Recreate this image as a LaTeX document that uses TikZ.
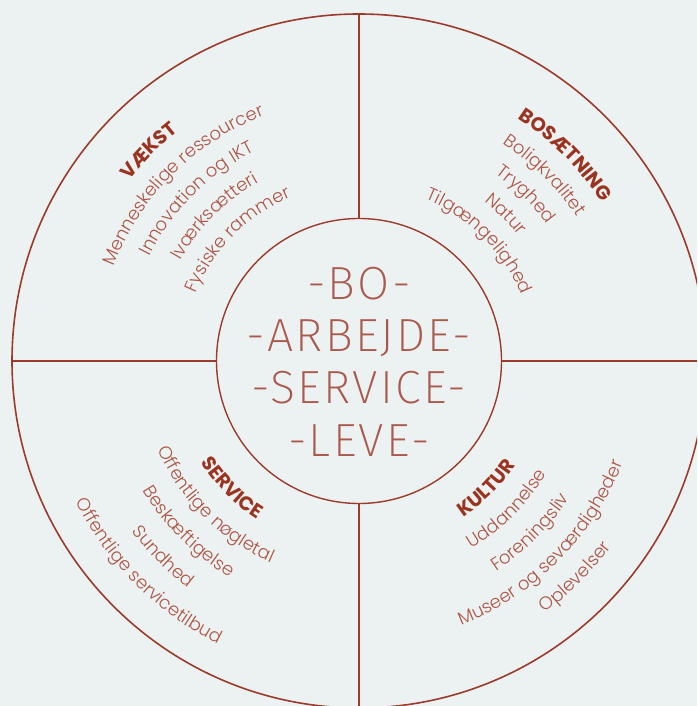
\documentclass[tikz,border=0pt]{standalone}
\usepackage{fontspec}
\usetikzlibrary{decorations.text}
\IfFontExistsTF{Poppins Light}{\newfontfamily\itemfont{Poppins Light}}{\newfontfamily\itemfont{Poppins}}
\newfontfamily\titlefont{Poppins}
\IfFontExistsTF{Fira Sans ExtraLight}{\newfontfamily\centerfont{Fira Sans ExtraLight}[LetterSpace=5]}{%
  \IfFontExistsTF{Fira Sans Light}{\newfontfamily\centerfont{Fira Sans Light}[LetterSpace=5]}{\newfontfamily\centerfont{Fira Sans}[LetterSpace=5]}}
\definecolor{bgc}{HTML}{ECF1F1}
\definecolor{linec}{HTML}{9A3B2C}
\definecolor{itemc}{HTML}{AD5646}
\definecolor{titlec}{HTML}{9A3421}
\definecolor{centerc}{HTML}{A95A4D}
\newcommand\itemring[4]{\path[shift={(C)}, decorate, decoration={text along path, text align=center, text color=itemc, text={|\itemfont\fontsize{18}{20}\selectfont|#4}}] (#2:#1) arc[start angle=#2, end angle=#3, radius=#1];}
\newcommand\titlering[4]{\path[shift={(C)}, decorate, decoration={text along path, text align=center, text color=titlec, text={|\titlefont\bfseries\fontsize{19.5}{21}\selectfont|#4}}] (#2:#1) arc[start angle=#2, end angle=#3, radius=#1];}
\begin{document}
\begin{tikzpicture}[x=1pt,y=1pt,
  ring/.style={draw=linec, line width=1.6pt},
  cross/.style={draw=linec, line width=1.5pt},
  centertxt/.style={text=centerc, font=\centerfont\fontsize{46.5}{50}\selectfont, anchor=base, inner sep=0pt}]
\useasboundingbox (0,0) rectangle (697,706);
\fill[bgc] (0,0) rectangle (697,706);
\clip (0,0) rectangle (697,706);
\coordinate (C) at (359,345);
\draw[ring] (C) circle[radius=347];
\node[circle, draw=linec, line width=1.4pt, minimum size=285pt, inner sep=0pt] (inner) at (C) {};
\coordinate (ctop) at (359,692);
\coordinate (cbot) at (359,-2);
\coordinate (cleft) at (12,345);
\coordinate (cright) at (697,345);
\draw[cross] (ctop) -- (inner.north);
\draw[cross] (inner.south) -- (cbot);
\draw[cross] (cleft) -- (inner.west);
\draw[cross] (inner.east) -- (cright);
% centre text
\node[centertxt] (bo) at (359,406) {-BO-};
\node[centertxt] (arb) at (359,354.3) {-ARBEJDE-};
\node[centertxt] (serv) at (359,302.7) {-SERVICE-};
\node[centertxt] (leve) at (359,249.3) {-LEVE-};
% upper left
\titlering{292}{195}{75}{VÆKST}
\itemring{263}{195}{75}{Menneskelige ressourcer}
\itemring{234}{195}{75}{Innovation og IKT}
\itemring{205}{195}{75}{Iværksætteri}
\itemring{177}{195}{75}{Fysiske rammer}
% upper right
\titlering{290}{105}{-15}{BOSÆTNING}
\itemring{261}{105}{-15}{Boligkvalitet}
\itemring{232}{105}{-15}{Tryghed}
\itemring{203}{105}{-15}{Natur}
\itemring{175}{105}{-15}{Tilgængelighed}
% lower left
\titlering{188}{165}{285}{SERVICE}
\itemring{220}{165}{285}{Offentlige nøgletal}
\itemring{252}{165}{285}{Beskæftigelse}
\itemring{284}{165}{285}{Sundhed}
\itemring{316}{165}{285}{Offentlige servicetilbud}
% lower right
\titlering{188}{255}{375}{KULTUR}
\itemring{219}{255}{375}{Uddannelse}
\itemring{251}{255}{375}{Foreningsliv}
\itemring{283}{255}{375}{Museer og seværdigheder}
\itemring{313}{255}{375}{Oplevelser}
\end{tikzpicture}
\end{document}
